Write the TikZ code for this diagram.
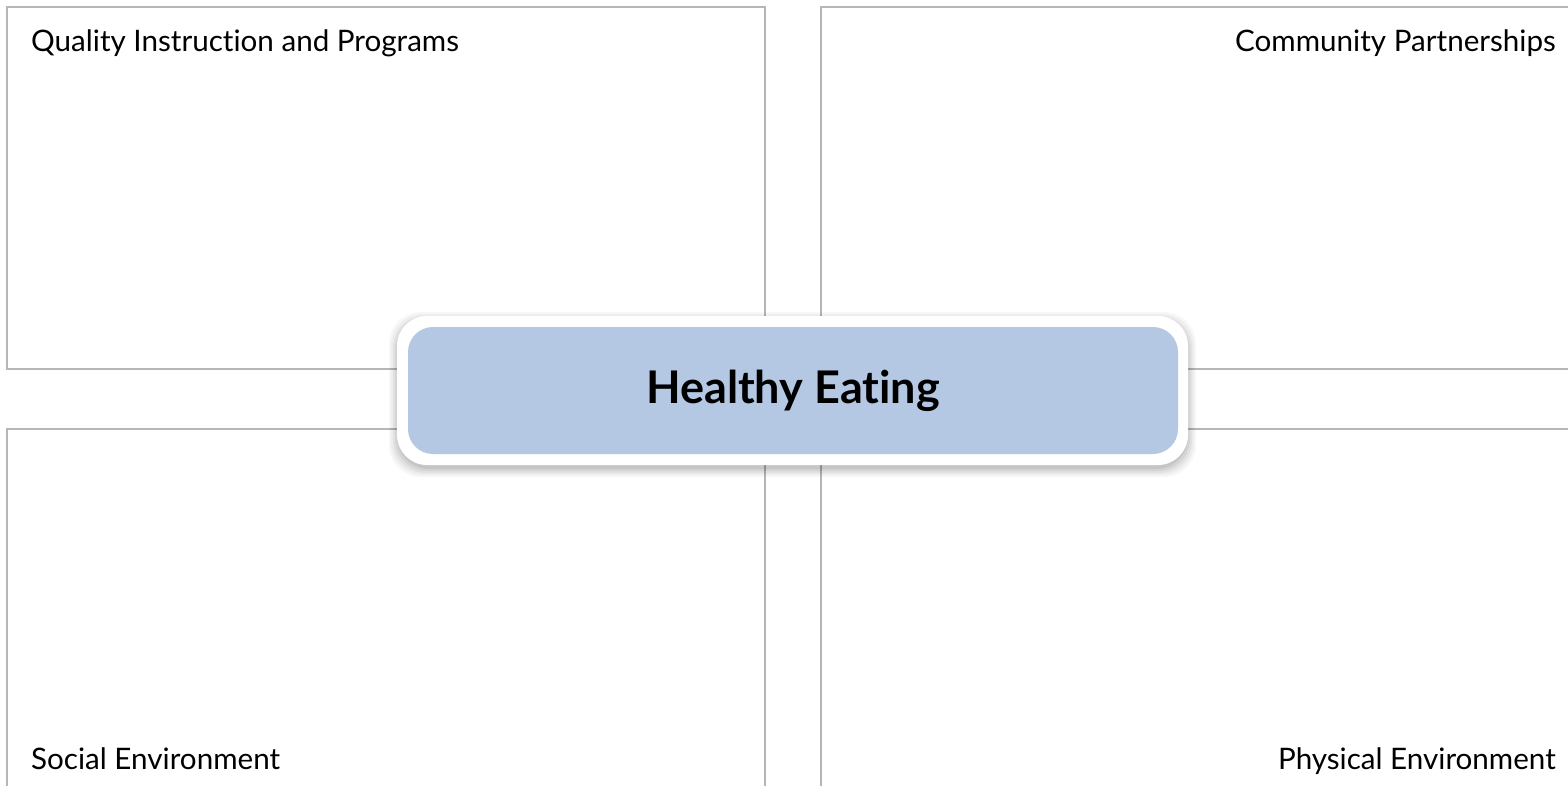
\documentclass[tikz,border=0pt]{standalone}
\usepackage{fontspec}
\setmainfont[RawFeature={-liga}]{Lato}
\definecolor{framegray}{HTML}{B4B7BA}
\definecolor{centerblue}{HTML}{B4C7E3}
\tikzset{
  quadbox/.style={draw=framegray, line width=2.2pt},
  quadlabel/.style={font=\fontsize{29.6}{34}\selectfont, text=black, inner sep=0pt},
  centerlabel/.style={font=\fontsize{45}{50}\bfseries\selectfont, text=black, inner sep=0pt},
}
\begin{document}
\begin{tikzpicture}[x=1pt,y=-1pt]
\useasboundingbox (0,0) rectangle (1568,786);
\begin{scope}
\clip (0,0) rectangle (1568,786);
% quadrant boxes
\draw[quadbox] (7,7) rectangle (765,369);
\draw[quadbox] (821,7) rectangle (1580,369);
\draw[quadbox] (7,429) rectangle (765,800);
\draw[quadbox] (821,429) rectangle (1580,800);
\end{scope}
% labels
\node[quadlabel, anchor=base west] (qip) at (31,52) {Quality Instruction and Programs};
\node[quadlabel, anchor=base east] (cp) at (1556,52) {Community Partnerships};
\node[quadlabel, anchor=base west] (se) at (31,769) {Social Environment};
\node[quadlabel, anchor=base east] (pe) at (1556,769) {Physical Environment};
% shadow
\foreach \i/\op in {8/0.03,6/0.04,4/0.05,2/0.06,0/0.07}{
  \fill[black, opacity=\op, rounded corners=32pt] (397-\i,320-\i) rectangle (1188+\i,469+\i);
}
% center node
\fill[white, rounded corners=30pt] (397,316) rectangle (1188,465);
\node[fill=centerblue, rounded corners=25pt, minimum width=770pt, minimum height=127pt, inner sep=0pt] (he) at (793,390.5) {};
\node[centerlabel] (het) at (he.center) {Healthy Eating};
\end{tikzpicture}
\end{document}
